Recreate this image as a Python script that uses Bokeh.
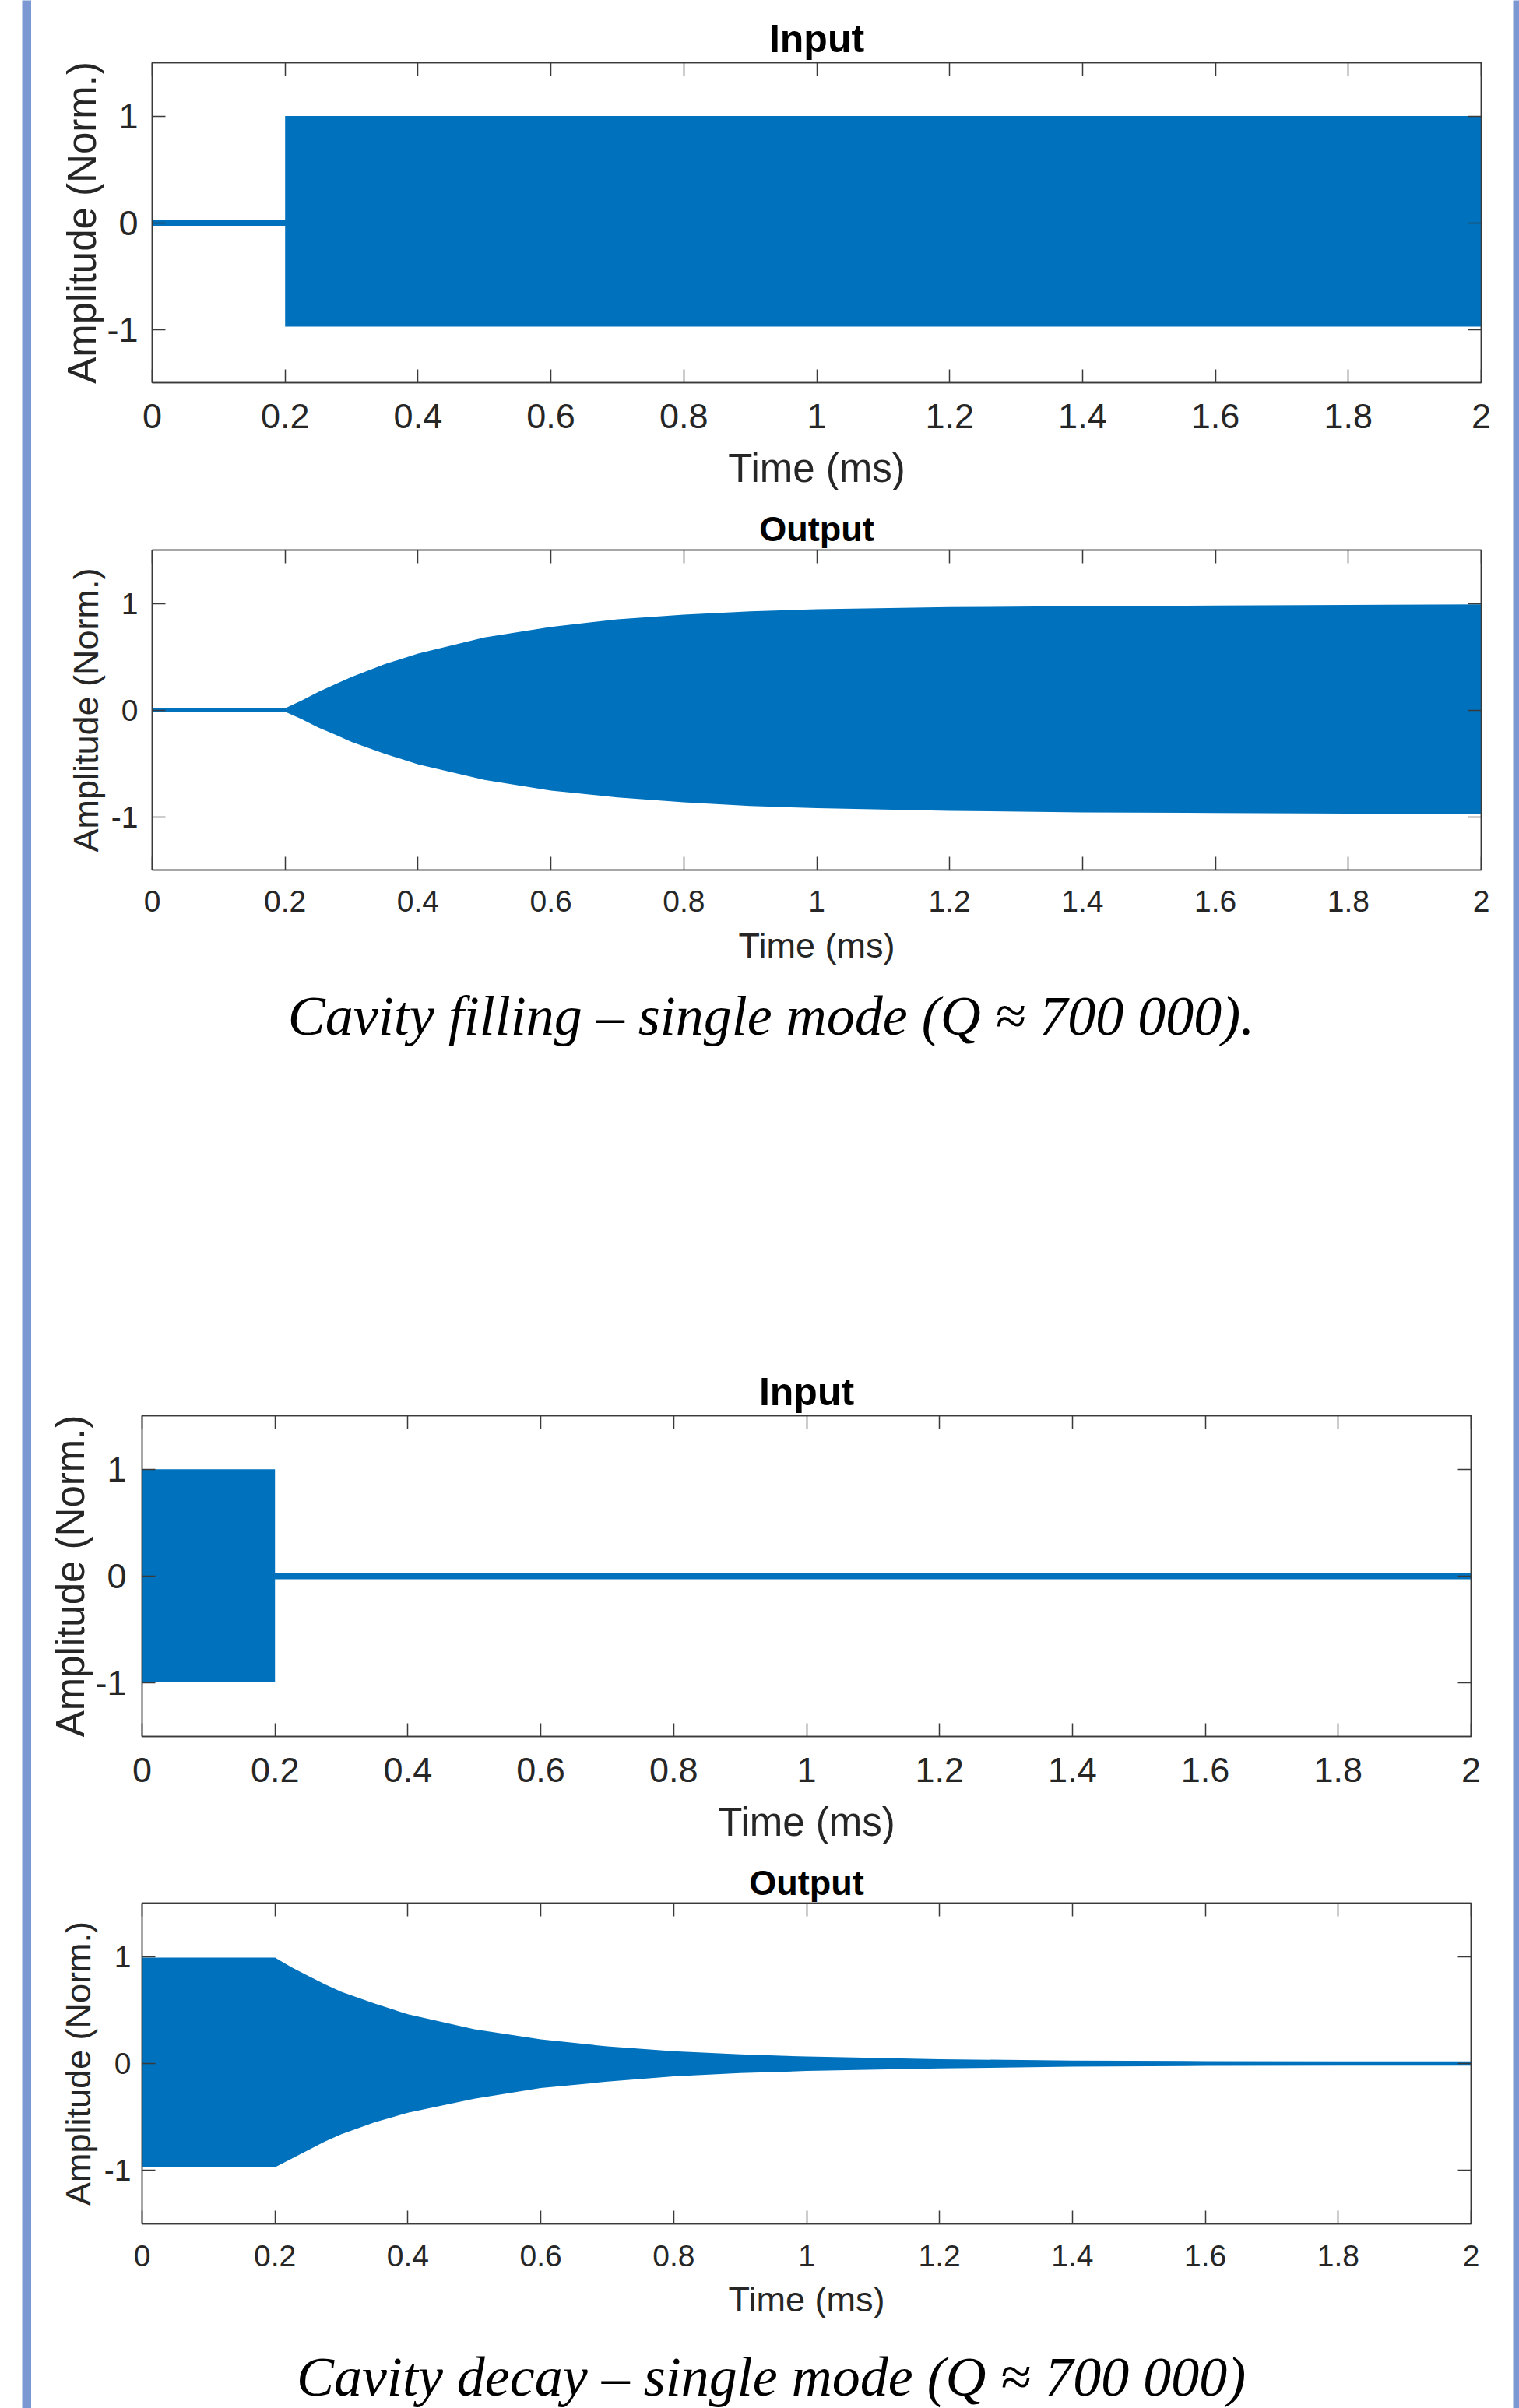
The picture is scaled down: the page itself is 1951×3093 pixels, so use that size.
from bokeh.plotting import figure
from bokeh.models import Range1d, FixedTicker, LinearAxis, Label, Spacer
from bokeh.layouts import row, column
from bokeh.embed import file_html
from bokeh.resources import INLINE

# ---------------- data ----------------
time_ticks = [0, 0.2, 0.4, 0.6, 0.8, 1, 1.2, 1.4, 1.6, 1.8, 2]
time_tick_labels = ["0", "0.2", "0.4", "0.6", "0.8", "1", "1.2", "1.4", "1.6", "1.8", "2"]
amp_ticks = [-1, 0, 1]
amp_tick_labels = ["-1", "0", "1"]

# Envelopes of the (dense, fully filled) RF signals, in normalized amplitude
fill_input_t = [0.0, 0.2, 0.2, 2.0]
fill_input_upper = [0.03, 0.03, 1.0, 1.0]
fill_input_lower = [-0.03, -0.03, -0.975, -0.975]

fill_output_t = [0.0, 0.2, 0.225, 0.25, 0.275, 0.3, 0.35, 0.4, 0.5, 0.6, 0.7, 0.8, 0.9, 1.0, 1.2, 1.4, 1.6, 1.8, 2.0]
fill_output_upper = [0.017, 0.017, 0.09, 0.17, 0.24, 0.31, 0.43, 0.53, 0.68, 0.78, 0.85, 0.895, 0.925, 0.945, 0.965, 0.975, 0.98, 0.985, 0.99]
fill_output_lower = [-0.017, -0.017, -0.085, -0.165, -0.23, -0.30, -0.41, -0.51, -0.655, -0.755, -0.82, -0.865, -0.9, -0.92, -0.945, -0.96, -0.965, -0.97, -0.975]

decay_input_t = [0.0, 0.2, 0.2, 2.0]
decay_input_upper = [1.0, 1.0, 0.03, 0.03]
decay_input_lower = [-0.99, -0.99, -0.03, -0.03]

decay_output_t = [0.0, 0.2, 0.225, 0.25, 0.275, 0.3, 0.35, 0.4, 0.5, 0.6, 0.7, 0.8, 0.9, 1.0, 1.2, 1.4, 1.6, 1.8, 2.0]
decay_output_upper = [0.99, 0.99, 0.90, 0.82, 0.74, 0.67, 0.56, 0.46, 0.32, 0.225, 0.16, 0.115, 0.085, 0.065, 0.04, 0.028, 0.022, 0.02, 0.02]
decay_output_lower = [-0.97, -0.97, -0.89, -0.81, -0.73, -0.66, -0.55, -0.46, -0.33, -0.23, -0.17, -0.12, -0.09, -0.07, -0.045, -0.03, -0.022, -0.02, -0.02]

caption_fill = "Cavity filling \u2013 single mode (Q \u2248 700 000)."
caption_decay = "Cavity decay \u2013 single mode (Q \u2248 700 000)"

# ---------------- styling ----------------
BLUE = "#0072BD"
AX = "#3a3a3a"
TXT = "#262626"
STRIPE = "#7b98d2"
SANS = "Liberation Sans"
SERIF = "Liberation Serif"
W = 1903          # width of the content column (page x 40 .. 1943)

x_overrides = {t: s for t, s in zip(time_ticks, time_tick_labels)}
y_overrides = {t: s for t, s in zip(amp_ticks, amp_tick_labels)}


def style_ticks(ax, ticks, overrides, size, standoff, show_labels=True):
    ax.ticker = FixedTicker(ticks=ticks)
    ax.major_label_overrides = overrides
    ax.major_tick_in = 17
    ax.major_tick_out = 0
    ax.minor_tick_line_color = None
    ax.major_tick_line_color = AX
    ax.major_tick_line_width = 1.5
    ax.axis_line_color = AX
    ax.axis_line_width = 1.5
    ax.major_label_standoff = standoff
    ax.major_label_text_font = SANS
    ax.major_label_text_font_size = f"{size}px"
    if show_labels:
        ax.major_label_text_color = TXT
    else:
        ax.major_label_text_color = None
        ax.major_label_text_font_size = "1px"
        ax.major_label_standoff = 0


def signal_plot(title, t, upper, lower, height, left, right, top, bottom,
                tick_size, label_size, title_size, title_standoff,
                xtick_standoff, xlabel_standoff, ytick_standoff, ylabel_standoff):
    p = figure(width=W, height=height, x_range=Range1d(0, 2), y_range=Range1d(-1.5, 1.5),
               output_backend="svg", toolbar_location=None, tools="",
               min_border_left=left, min_border_right=right,
               min_border_top=top, min_border_bottom=bottom,
               title=title, x_axis_label="Time (ms)", y_axis_label="Amplitude (Norm.)")
    p.varea(x=t, y1=lower, y2=upper, fill_color=BLUE, fill_alpha=1.0)
    p.grid.visible = False
    p.outline_line_color = AX
    p.outline_line_width = 1.5
    p.background_fill_color = "white"
    p.border_fill_color = "white"

    p.title.align = "center"
    p.title.text_font = SANS
    p.title.text_font_style = "bold"
    p.title.text_font_size = f"{title_size}px"
    p.title.text_color = "black"
    p.title.standoff = title_standoff

    xa = p.xaxis[0]
    style_ticks(xa, time_ticks, x_overrides, tick_size, xtick_standoff)
    xa.axis_label_text_font = SANS
    xa.axis_label_text_font_style = "normal"
    xa.axis_label_text_font_size = f"{label_size}px"
    xa.axis_label_text_color = TXT
    xa.axis_label_standoff = xlabel_standoff

    ya = p.yaxis[0]
    style_ticks(ya, amp_ticks, y_overrides, tick_size, ytick_standoff)
    ya.axis_label_text_font = SANS
    ya.axis_label_text_font_style = "normal"
    ya.axis_label_text_font_size = f"{label_size}px"
    ya.axis_label_text_color = TXT
    ya.axis_label_standoff = ylabel_standoff

    top_ax = LinearAxis()
    style_ticks(top_ax, time_ticks, x_overrides, tick_size, 0, show_labels=False)
    p.add_layout(top_ax, "above")
    right_ax = LinearAxis()
    style_ticks(right_ax, amp_ticks, y_overrides, tick_size, 0, show_labels=False)
    p.add_layout(right_ax, "right")
    return p


def caption_plot(text, height, left, right, cx, cy):
    # frame spans local x = left .. W-right; data units equal local pixels
    p = figure(width=W, height=height, x_range=Range1d(left, W - right), y_range=Range1d(height, 0),
               x_axis_type=None, y_axis_type=None, output_backend="svg",
               toolbar_location=None, tools="",
               min_border_left=left, min_border_right=right, min_border_top=0, min_border_bottom=0)
    p.outline_line_color = None
    p.background_fill_color = "white"
    p.border_fill_color = "white"
    p.add_layout(Label(x=cx, y=cy, text=text, text_align="center", text_baseline="middle",
                       text_font=SERIF, text_font_style="italic", text_font_size="72px",
                       text_color="black"))
    return p


def stripe(width, height):
    p = figure(width=width, height=height, x_axis_type=None, y_axis_type=None,
               output_backend="svg", toolbar_location=None, tools="", min_border=0)
    p.outline_line_color = None
    p.background_fill_color = STRIPE
    p.border_fill_color = STRIPE
    return p


def section(children, total_h):
    return row(Spacer(width=28, height=total_h), stripe(12, total_h),
               column(*children, spacing=0), stripe(8, total_h), spacing=0)


# ---- top block: cavity filling (page y 0 .. 1740) ----
p1 = signal_plot("Input", fill_input_t, fill_input_upper, fill_input_lower,
                 height=648, left=155, right=41, top=80, bottom=157,
                 tick_size=45, label_size=51, title_size=50, title_standoff=5,
                 xtick_standoff=27, xlabel_standoff=20, ytick_standoff=18, ylabel_standoff=0)
p2 = signal_plot("Output", fill_output_t, fill_output_upper, fill_output_lower,
                 height=614, left=155, right=41, top=58, bottom=145,
                 tick_size=39, label_size=45, title_size=45, title_standoff=3,
                 xtick_standoff=26, xlabel_standoff=15, ytick_standoff=18, ylabel_standoff=4)
c1 = caption_plot(caption_fill, 478, 155, 41, 950, 42)
top_block = section([p1, p2, c1], 648 + 614 + 478)

# ---- bottom block: cavity decay (page y 1740 .. 3093) ----
p3 = signal_plot("Input", decay_input_t, decay_input_upper, decay_input_lower,
                 height=646, left=142, right=54, top=78, bottom=156,
                 tick_size=45, label_size=51, title_size=50, title_standoff=5,
                 xtick_standoff=27, xlabel_standoff=20, ytick_standoff=20, ylabel_standoff=0)
p4 = signal_plot("Output", decay_output_t, decay_output_upper, decay_output_lower,
                 height=614, left=142, right=54, top=58, bottom=144,
                 tick_size=39, label_size=45, title_size=45, title_standoff=2,
                 xtick_standoff=27, xlabel_standoff=14, ytick_standoff=14, ylabel_standoff=5)
c2 = caption_plot(caption_decay, 93, 142, 54, 950, 52)
bottom_block = section([p3, p4, c2], 646 + 614 + 93)

p = [top_block, bottom_block]
open("out.html", "w").write(file_html(p, INLINE))
